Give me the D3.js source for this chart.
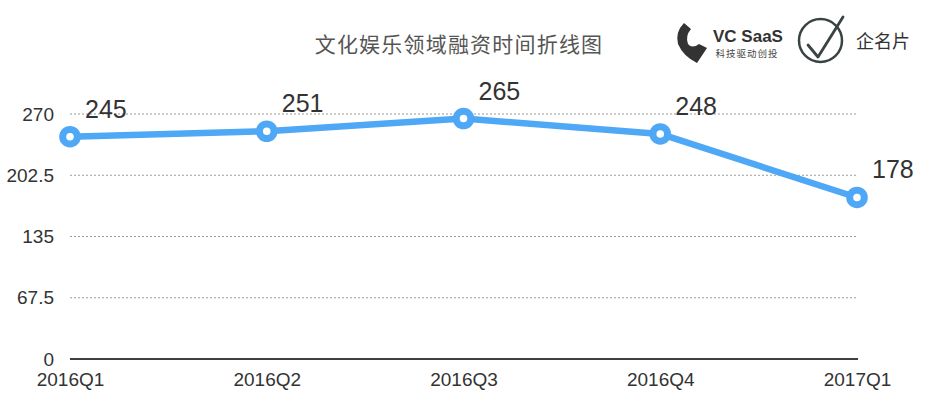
<!DOCTYPE html>
<html>
<head>
<meta charset="utf-8">
<script src="https://cdn.jsdelivr.net/npm/d3@7"></script>
<style>
  body { margin: 0; background: #fff; }
  svg { display: block; font-family: "Liberation Sans", Arial, sans-serif; }
</style>
</head>
<body>
<div id="chart"></div>
<script>
//chart data
const categories = ['2016Q1', '2016Q2', '2016Q3', '2016Q4', '2017Q1']
const values = [245, 251, 265, 248, 178]
const yTicks = [0, 67.5, 135, 202.5, 270]
const title = '文化娱乐领域融资时间折线图'

const width = 927, height = 398

const svg = d3.select('#chart')
  .append('svg')
    .attr('width', width)
    .attr('height', height)

//scales
const x = d3.scalePoint()
  .domain(categories)
  .range([70, 857])

const y = d3.scaleLinear()
  .domain([0, 270])
  .range([359, 114])

//dotted grid lines
svg.append('g')
  .selectAll('line')
  .data(yTicks.filter(d => d > 0))
  .join('line')
    .attr('x1', 70)
    .attr('x2', 857)
    .attr('y1', d => y(d))
    .attr('y2', d => y(d))
    .style('stroke', '#9a9a9a')
    .style('stroke-width', 1)
    .style('stroke-dasharray', '2,2')

//y axis labels
const yAxis = svg.append('g')
  .attr('transform', 'translate(54,0)')
  .call(d3.axisLeft(y).tickValues(yTicks).tickSize(0).tickPadding(0).tickFormat(d => d))
yAxis.select('.domain').remove()
yAxis.selectAll('text')
  .style('font-size', '19px')
  .style('font-family', '"Liberation Sans", Arial, sans-serif')
  .style('fill', '#333')

//x axis
const xAxis = svg.append('g')
  .attr('transform', `translate(0, ${y(0)})`)
  .call(d3.axisBottom(x).tickSize(0).tickPadding(14))
xAxis.select('.domain')
  .attr('d', 'M70,0H858')
  .style('stroke', '#000')
  .style('stroke-width', 1.5)
xAxis.selectAll('text')
  .style('font-size', '19px')
  .style('font-family', '"Liberation Sans", Arial, sans-serif')
  .style('fill', '#333')

//line
const line = d3.line()
  .x((d, i) => x(categories[i]))
  .y(d => y(d))

svg.append('path')
  .datum(values)
  .attr('d', line)
  .style('fill', 'none')
  .style('stroke', '#4fa8f6')
  .style('stroke-width', 6.5)
  .style('stroke-linejoin', 'round')

//markers
svg.append('g')
  .selectAll('circle')
  .data(values)
  .join('circle')
    .attr('cx', (d, i) => x(categories[i]))
    .attr('cy', d => y(d))
    .attr('r', 7.3)
    .style('fill', '#fff')
    .style('stroke', '#4fa8f6')
    .style('stroke-width', 7)

//value labels
svg.append('g')
  .selectAll('text')
  .data(values)
  .join('text')
    .attr('x', (d, i) => x(categories[i]) + 15)
    .attr('y', d => y(d) - 19)
    .style('font-size', '25px')
    .style('fill', '#333')
    .text(d => d)

//title
svg.append('text')
  .attr('x', 459)
  .attr('y', 52)
  .attr('text-anchor', 'middle')
  .style('font-family', '"Noto Sans CJK SC", sans-serif')
  .style('font-size', '21px')
  .style('letter-spacing', '1.2px')
  .style('fill', '#555')
  .text(title)

//VC SaaS logo
const logo = svg.append('g')
logo.append('path')
  .attr('d', 'M684,23 L691,29 Q685,36 688,44 Q692,49 699,44 L707,48 L697,63 Q683,56 678,44 Q675,32 684,23 Z')
  .style('fill', '#333')
logo.append('text')
  .attr('x', 713)
  .attr('y', 42)
  .style('font-size', '17px')
  .style('font-weight', 'bold')
  .style('fill', '#333')
  .text('VC SaaS')
logo.append('text')
  .attr('x', 747)
  .attr('y', 57)
  .attr('text-anchor', 'middle')
  .style('font-family', '"Noto Sans CJK SC", sans-serif')
  .style('font-size', '9.5px')
  .style('letter-spacing', '1px')
  .style('fill', '#444')
  .text('科技驱动创投')

//企名片 logo
logo.append('circle')
  .attr('cx', 820.5)
  .attr('cy', 40.5)
  .attr('r', 21.5)
  .style('fill', 'none')
  .style('stroke', '#3a4343')
  .style('stroke-width', 2.5)
logo.append('path')
  .attr('d', 'M808,45 L818,57 L843,17')
  .style('fill', 'none')
  .style('stroke', '#3a4343')
  .style('stroke-width', 2.8)
  .style('stroke-linecap', 'round')
  .style('stroke-linejoin', 'round')
logo.append('text')
  .attr('x', 856)
  .attr('y', 48)
  .style('font-family', '"Noto Sans CJK SC", sans-serif')
  .style('font-size', '18px')
  .style('fill', '#333')
  .text('企名片')
</script>
</body>
</html>
